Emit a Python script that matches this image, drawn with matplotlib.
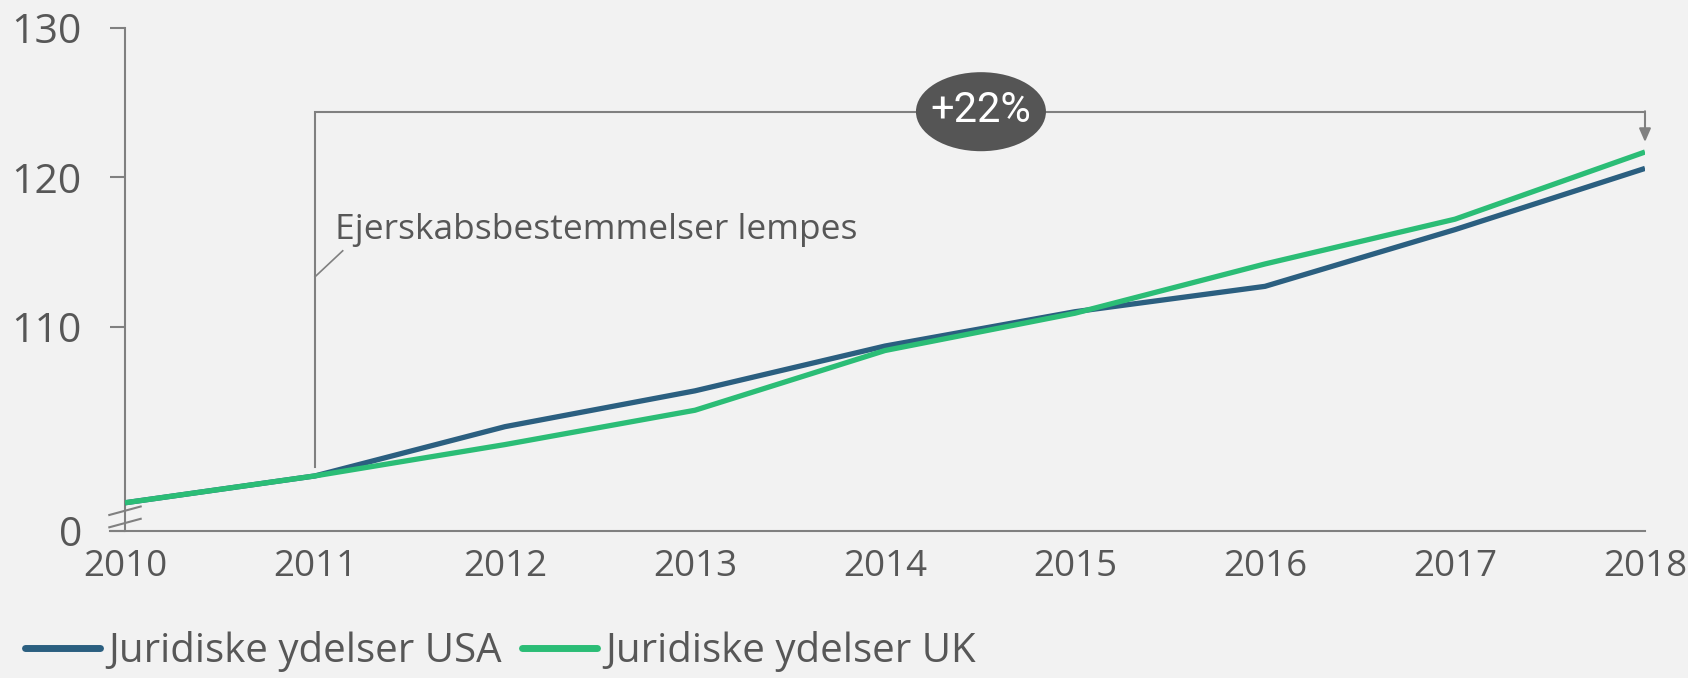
import matplotlib
matplotlib.use("Agg")
import matplotlib.pyplot as plt
from matplotlib.patches import Ellipse

years = [2010, 2011, 2012, 2013, 2014, 2015, 2016, 2017, 2018]
usa = [98.2, 100.0, 103.3, 105.7, 108.7, 111.0, 112.7, 116.5, 120.6]
uk = [98.2, 100.0, 102.1, 104.4, 108.4, 110.9, 114.2, 117.2, 121.7]
series_names = ["Juridiske ydelser USA", "Juridiske ydelser UK"]
ytick_values = [96.33, 110, 120, 130]
ytick_labels = ["0", "110", "120", "130"]
annotation_text = "Ejerskabsbestemmelser lempes"
growth_label = "+22%"

BG = "#f2f2f2"
AX = "#808080"
TXT = "#575757"
C_USA = "#2b5f80"
C_UK = "#2bbd76"

plt.rcParams["font.family"] = ["Open Sans", "DejaVu Sans"]

fig = plt.figure(figsize=(16.88, 6.78), dpi=100, facecolor=BG)
ax = fig.add_axes([125 / 1688, 1 - 530.7 / 678, 1520 / 1688, (530.7 - 28.1) / 678])
ax.set_facecolor(BG)

ax.plot(years, usa, color=C_USA, lw=3.8, solid_capstyle="butt", label=series_names[0], zorder=3)
ax.plot(years, uk, color=C_UK, lw=3.8, solid_capstyle="butt", label=series_names[1], zorder=4)

ax.set_xlim(2010, 2018)
ax.set_ylim(96.33, 130)
ax.set_xticks(years)
ax.set_xticklabels([str(y) for y in years], fontsize=26.5, color=TXT)
ax.set_yticks(ytick_values)
ax.set_yticklabels(ytick_labels, fontsize=29.5, color=TXT)
ax.tick_params(axis="x", length=0, pad=13)
ax.tick_params(axis="y", length=11, width=1.5, color=AX, pad=20)
for s in ["top", "right"]:
    ax.spines[s].set_visible(False)
for s in ["left", "bottom"]:
    ax.spines[s].set_color(AX)
    ax.spines[s].set_linewidth(1.5)
ax.spines["bottom"].set_bounds(2010 - 15 / 190, 2018)
ax.spines["bottom"].set_clip_on(False)

# axis break marks
px = 1 / 190.0
py = 1 / 14.92
for y0 in [96.33 + (530.7 - 515) * py, 96.33 + (530.7 - 527.3) * py]:
    ax.plot([2010 - 15.7 * px, 2010 + 15.7 * px], [y0, y0 + 8.5 * py],
            color=AX, lw=1.5, clip_on=False, zorder=5)

# bracket annotation
y_top = 124.38
ax.plot([2011, 2011, 2018], [100.6, y_top, y_top], color=AX, lw=1.5, zorder=2,
        solid_joinstyle="miter")
ax.annotate("", xy=(2018, 122.37), xytext=(2018, y_top + 0.05),
            arrowprops=dict(arrowstyle="-|>,head_length=0.8,head_width=0.35",
                            color=AX, lw=1.5, shrinkA=0, shrinkB=0), zorder=2)
ell = Ellipse((2014.505, 124.4), 130 / 190, 79 / 14.92, facecolor="#555555",
              edgecolor="none", zorder=6)
ax.add_patch(ell)
ax.text(2014.505, 124.45, growth_label, color="white", fontsize=30, ha="center",
        va="center", zorder=7, family=["Roboto", "DejaVu Sans"])

# leader and note
ax.plot([2011, 2011 + 27.7 * px], [113.34, 115.08], color=AX, lw=1.2, zorder=2)
ax.text(2011.105, 115.86, annotation_text, fontsize=25.5, color=TXT, ha="left",
        va="baseline")

leg = fig.legend(loc="center left", bbox_to_anchor=(25 / 1688, 1 - 652 / 678), ncol=2,
                 frameon=False, fontsize=29, handlelength=1.85, handletextpad=0.22,
                 columnspacing=0.5, borderaxespad=0, borderpad=0)
for t in leg.get_texts():
    t.set_color(TXT)
for h in leg.get_lines():
    h.set_linewidth(5)
    h.set_solid_capstyle("round")

fig.savefig("out.png", dpi=100, facecolor=BG)
